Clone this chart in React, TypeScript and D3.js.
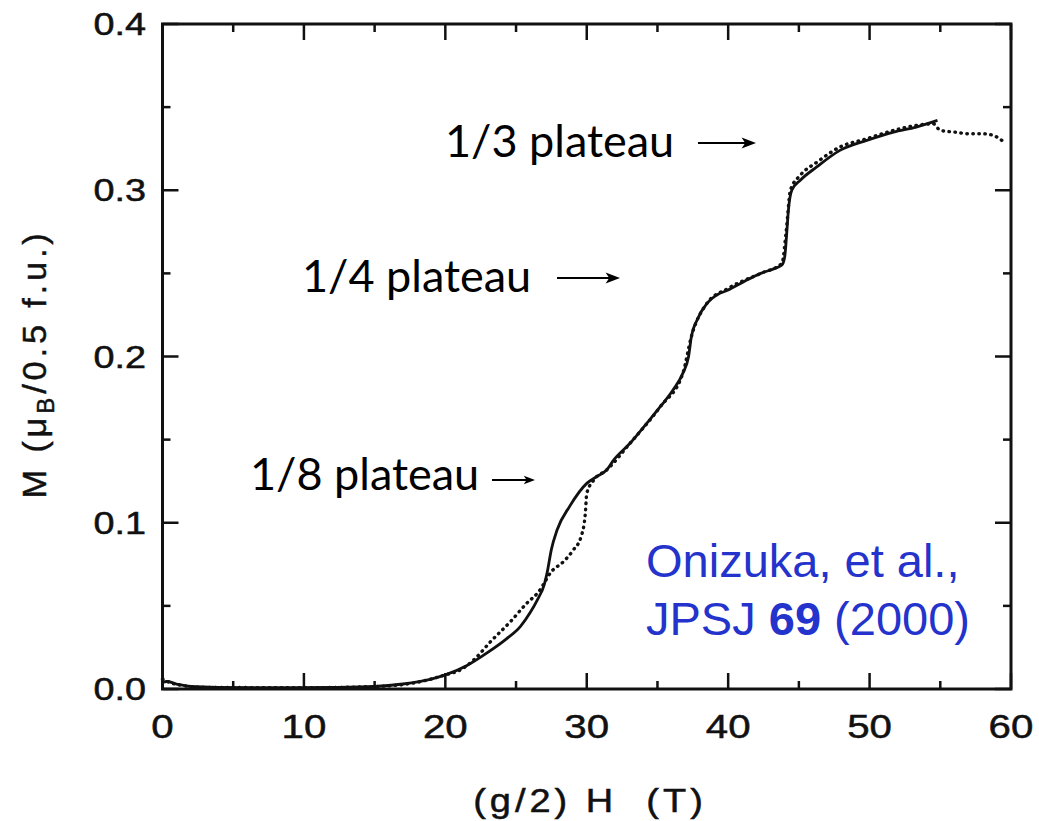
import React from "react";
import * as d3 from "d3";

// Magnetization curves M(H) — two sweeps
const solidH = [0, 0.3, 1, 2, 4, 8, 12, 15, 17, 19, 20, 21.5, 23, 24.3, 25.3, 26, 26.5, 27, 27.2, 27.5, 27.9, 28.8, 30.0, 30.7, 31.4, 31.9, 33.06, 34.24, 35.2, 36.1, 36.8, 37.2, 37.4, 37.8, 38.5, 39.2, 40.0, 41.1, 42.3, 43.3, 43.8, 44.0, 44.14, 44.26, 44.5, 45.1, 46.26, 47.9, 49.8, 51.7, 53.3, 54.8];
const solidM = [0.004, 0.0045, 0.003, 0.0015, 0.001, 0.0008, 0.001, 0.0015, 0.003, 0.006, 0.0085, 0.014, 0.022, 0.03, 0.0375, 0.046, 0.0535, 0.063, 0.07, 0.084, 0.0956, 0.11, 0.1237, 0.1277, 0.1317, 0.1377, 0.1478, 0.1598, 0.1698, 0.1798, 0.19, 0.2, 0.212, 0.222, 0.232, 0.237, 0.24, 0.245, 0.25, 0.253, 0.255, 0.26, 0.274, 0.288, 0.3, 0.306, 0.314, 0.324, 0.33, 0.335, 0.338, 0.342];

const dottedH = [0, 0.5, 1.5, 3, 10, 15, 18, 20, 21.04, 22.0, 23.2, 24.6, 25.75, 26.6, 27.5, 28.35, 29.05, 29.6, 29.9, 30.0, 30.5, 31.4, 33.06, 35.2, 36.8, 37.4, 38.5, 40, 42.3, 43.8, 44.1, 44.4, 45.1, 46.3, 47.9, 49.8, 51.7, 53.3, 54.5, 55, 56, 57, 58, 58.75, 59.35];
const dottedM = [0.006, 0.004, 0.002, 0.001, 0.0008, 0.0015, 0.004, 0.0085, 0.0114, 0.0174, 0.0285, 0.0405, 0.0515, 0.0585, 0.0706, 0.0766, 0.0836, 0.0916, 0.1057, 0.1177, 0.1257, 0.1317, 0.1478, 0.1698, 0.19, 0.212, 0.232, 0.241, 0.25, 0.256, 0.275, 0.3, 0.309, 0.317, 0.326, 0.331, 0.336, 0.339, 0.34, 0.336, 0.335, 0.334, 0.334, 0.333, 0.33];

const xMajor = [0, 10, 20, 30, 40, 50, 60];
const xMinor = [5, 15, 25, 35, 45, 55];
const yMajor = [0, 0.1, 0.2, 0.3, 0.4];
const yMinor = [0.05, 0.15, 0.25, 0.35];
const yTickLabels = ["0.0", "0.1", "0.2", "0.3", "0.4"];
const xTickLabels = ["0", "10", "20", "30", "40", "50", "60"];

const plateauLabels = ["1/3 plateau", "1/4 plateau", "1/8 plateau"];

const W = 1039;
const H = 821;
const left = 162.5;
const right = 1011;
const top = 24;
const bottom = 689;

const x = d3.scaleLinear().domain([0, 60]).range([left, right]);
const y = d3.scaleLinear().domain([0, 0.4]).range([bottom, top]);

const line = d3
  .line<[number, number]>()
  .x((d) => x(d[0]))
  .y((d) => y(d[1]))
  .curve(d3.curveMonotoneX);

const solidPts: [number, number][] = solidH.map((h, i) => [h, solidM[i]]);
const dottedPts: [number, number][] = dottedH.map((h, i) => [h, dottedM[i]]);

const axisFont = "'Liberation Sans', Arial, Helvetica, sans-serif";
const noteFont = "Lato, 'Open Sans', sans-serif";
const blue = "#2433cc";

function Stretched({ tx, ty, sx, anchor, size, spacing, children }: any) {
  return (
    <text
      transform={`translate(${tx},${ty}) scale(${sx},1)`}
      textAnchor={anchor}
      fontFamily={axisFont}
      fontSize={size}
      fill="#111"
      stroke="#111"
      strokeWidth={0.5}
      letterSpacing={spacing || 0}
      style={{ whiteSpace: "pre" }}
    >
      {children}
    </text>
  );
}

function Arrow({ x1, x2, yy, head }: { x1: number; x2: number; yy: number; head: number }) {
  return (
    <g>
      <line x1={x1} y1={yy} x2={x2 - head * 0.8} y2={yy} stroke="#000" strokeWidth={2} />
      <path
        d={`M${x2},${yy} L${x2 - head * 1.6},${yy - head * 0.6} L${x2 - head * 1.2},${yy} L${x2 - head * 1.6},${yy + head * 0.6} Z`}
        fill="#000"
      />
    </g>
  );
}

export default function App() {
  const majorLen = 16;
  const minorLen = 8;
  return (
    <svg
      width={W}
      height={H}
      style={{ position: "absolute", left: 0, top: 0, background: "#fff" }}
    >
      <rect width={W} height={H} fill="#fff" />

      {/* ticks, inward on all four sides */}
      <g stroke="#111" strokeWidth={2.5}>
        {xMajor.map((v) => (
          <g key={"xM" + v}>
            <line x1={x(v)} x2={x(v)} y1={bottom} y2={bottom - majorLen} />
            <line x1={x(v)} x2={x(v)} y1={top} y2={top + majorLen} />
          </g>
        ))}
        {xMinor.map((v) => (
          <g key={"xm" + v}>
            <line x1={x(v)} x2={x(v)} y1={bottom} y2={bottom - minorLen} />
            <line x1={x(v)} x2={x(v)} y1={top} y2={top + minorLen} />
          </g>
        ))}
        {yMajor.map((v) => (
          <g key={"yM" + v}>
            <line x1={left} x2={left + majorLen} y1={y(v)} y2={y(v)} />
            <line x1={right} x2={right - majorLen} y1={y(v)} y2={y(v)} />
          </g>
        ))}
        {yMinor.map((v) => (
          <g key={"ym" + v}>
            <line x1={left} x2={left + minorLen} y1={y(v)} y2={y(v)} />
            <line x1={right} x2={right - minorLen} y1={y(v)} y2={y(v)} />
          </g>
        ))}
      </g>

      {/* data */}
      <path d={line(solidPts) || ""} fill="none" stroke="#111" strokeWidth={2.8} strokeLinejoin="round" />
      <path
        d={line(dottedPts) || ""}
        fill="none"
        stroke="#111"
        strokeWidth={3.4}
        strokeDasharray="0.5 5.5"
        strokeLinecap="round"
      />

      {/* frame */}
      <rect x={left} y={top} width={right - left} height={bottom - top} fill="none" stroke="#111" strokeWidth={3} />

      {/* tick labels */}
      {yMajor.map((v, i) => (
        <Stretched key={"yl" + v} tx={146} ty={y(v) + 11} sx={1.22} anchor="end" size={31}>
          {yTickLabels[i]}
        </Stretched>
      ))}
      {xMajor.map((v, i) => (
        <Stretched key={"xl" + v} tx={x(v)} ty={738} sx={1.22} anchor="middle" size={33}>
          {xTickLabels[i]}
        </Stretched>
      ))}

      {/* axis titles */}
      <Stretched tx={590} ty={812} sx={1.15} anchor="middle" size={33} spacing={3.5}>
        {"(g/2) H  (T)"}
      </Stretched>
      <text
        transform="translate(46,364) rotate(-90) scale(1.15,1.12)"
        textAnchor="middle"
        fontFamily={axisFont}
        fontSize={30}
        fill="#111"
        stroke="#111"
        strokeWidth={0.4}
        letterSpacing={3.3}
      >
        M (μ
        <tspan fontSize={21} dy={7}>B</tspan>
        <tspan dy={-7}>/0.5 f.u.)</tspan>
      </text>

      {/* plateau annotations */}
      <text x={445} y={157} fontFamily={noteFont} fontSize={45} fill="#000">{plateauLabels[0]}</text>
      <Arrow x1={698} x2={756} yy={143} head={9} />
      <text x={302} y={292} fontFamily={noteFont} fontSize={45} fill="#000">{plateauLabels[1]}</text>
      <Arrow x1={557} x2={620} yy={278} head={9} />
      <text x={250} y={490} fontFamily={noteFont} fontSize={45} fill="#000">{plateauLabels[2]}</text>
      <Arrow x1={492} x2={535} yy={480} head={7} />

      {/* reference */}
      <text fontFamily={axisFont} fontSize={47} fill={blue}>
        <tspan x={646} y={577}>Onizuka, et al.,</tspan>
        <tspan x={646} y={635}>JPSJ </tspan>
        <tspan fontWeight="bold">69</tspan>
        <tspan> (2000)</tspan>
      </text>
    </svg>
  );
}
